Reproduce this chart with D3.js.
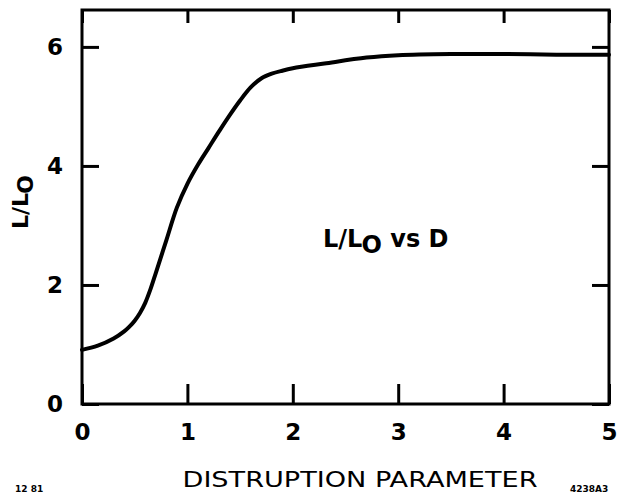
<!DOCTYPE html>
<html>
<head>
<meta charset="utf-8">
<script src="https://cdn.jsdelivr.net/npm/d3@7"></script>
<style>
  body { margin: 0; background: #fff; }
  svg { display: block; }
  .tick text { font-family: "DejaVu Sans", sans-serif; font-weight: bold; font-size: 23px; fill: #000; }
  .axis path.domain { display: none; }
  .axis line { stroke: #000; stroke-width: 3px; }
</style>
</head>
<body>
<div id="chart"></div>
<script>
// L/Lo vs distruption parameter D
const dValues = [0, 0.15, 0.3, 0.4, 0.45, 0.5, 0.55, 0.6, 0.65, 0.7, 0.8, 0.9, 1.0, 1.1, 1.2, 1.3, 1.4, 1.5, 1.6, 1.7, 1.8, 1.9, 2.0, 2.3, 2.7, 3.0, 3.5, 4.0, 4.5, 5.0]
const ratioValues = [0.91, 0.98, 1.1, 1.22, 1.3, 1.4, 1.53, 1.7, 1.93, 2.2, 2.75, 3.3, 3.7, 4.02, 4.3, 4.58, 4.85, 5.1, 5.32, 5.47, 5.55, 5.6, 5.64, 5.72, 5.82, 5.86, 5.88, 5.88, 5.87, 5.87]
const xTicks = [0, 1, 2, 3, 4, 5]
const yTicks = [0, 2, 4, 6]

const width = 619
const height = 499
const margin = { top: 10, right: 10, bottom: 95, left: 82 }

const svg = d3.select('#chart')
  .append('svg')
  .attr('width', width)
  .attr('height', height)

const x = d3.scaleLinear()
  .domain([0, 5])
  .range([margin.left, width - margin.right])

const y = d3.scaleLinear()
  .domain([0, 6.62])
  .range([height - margin.bottom, margin.top])

// frame
svg.append('rect')
  .attr('x', x(0))
  .attr('y', y(6.62))
  .attr('width', x(5) - x(0))
  .attr('height', y(0) - y(6.62))
  .attr('fill', 'none')
  .attr('stroke', '#000')
  .attr('stroke-width', 3)

// axes with inward ticks
svg.append('g')
  .attr('class', 'axis')
  .attr('transform', `translate(0,${y(0)})`)
  .call(d3.axisBottom(x).tickValues(xTicks).tickSize(-20).tickPadding(20).tickFormat(d3.format('d')))

svg.append('g')
  .attr('class', 'axis')
  .attr('transform', `translate(0,${y(6.62)})`)
  .call(d3.axisTop(x).tickValues(xTicks).tickSize(-13).tickFormat(''))

svg.append('g')
  .attr('class', 'axis')
  .attr('transform', `translate(${x(0)},0)`)
  .call(d3.axisLeft(y).tickValues(yTicks).tickSize(-17).tickPadding(19).tickFormat(d3.format('d')))

svg.append('g')
  .attr('class', 'axis')
  .attr('transform', `translate(${x(5)},0)`)
  .call(d3.axisRight(y).tickValues(yTicks).tickSize(-17).tickFormat(''))

// curve
const line = d3.line()
  .x((d, i) => x(dValues[i]))
  .y(d => y(d))
  .curve(d3.curveCatmullRom.alpha(0.5))

svg.append('path')
  .datum(ratioValues)
  .attr('d', line)
  .attr('fill', 'none')
  .attr('stroke', '#000')
  .attr('stroke-width', 4)
  .attr('stroke-linecap', 'round')

// x axis title
svg.append('text')
  .attr('x', 360)
  .attr('y', 487)
  .attr('text-anchor', 'middle')
  .attr('font-family', 'DejaVu Sans, sans-serif')
  .attr('font-size', 22)
  .attr('textLength', 355)
  .attr('lengthAdjust', 'spacingAndGlyphs')
  .text('DISTRUPTION PARAMETER')

// y axis title
const yTitle = svg.append('text')
  .attr('transform', 'translate(28,202) rotate(-90)')
  .attr('text-anchor', 'middle')
  .attr('font-family', 'DejaVu Sans, sans-serif')
  .attr('font-weight', 'bold')
  .attr('font-size', 22)
yTitle.append('tspan').text('L/L')
yTitle.append('tspan').attr('dy', 5).text('O')

// annotation
const note = svg.append('text')
  .attr('x', 323)
  .attr('y', 247)
  .attr('font-family', 'DejaVu Sans, sans-serif')
  .attr('font-weight', 'bold')
  .attr('font-size', 24)
note.append('tspan').text('L/L')
note.append('tspan').attr('dy', 6).text('O')
note.append('tspan').attr('dy', -6).text(' vs D')

// small corner marks
svg.append('text')
  .attr('x', 15)
  .attr('y', 492)
  .attr('font-family', 'DejaVu Sans, sans-serif')
  .attr('font-weight', 'bold')
  .attr('font-size', 9)
  .text('12 81')

svg.append('text')
  .attr('x', 570)
  .attr('y', 492)
  .attr('font-family', 'DejaVu Sans, sans-serif')
  .attr('font-weight', 'bold')
  .attr('font-size', 9)
  .text('4238A3')
</script>
</body>
</html>
